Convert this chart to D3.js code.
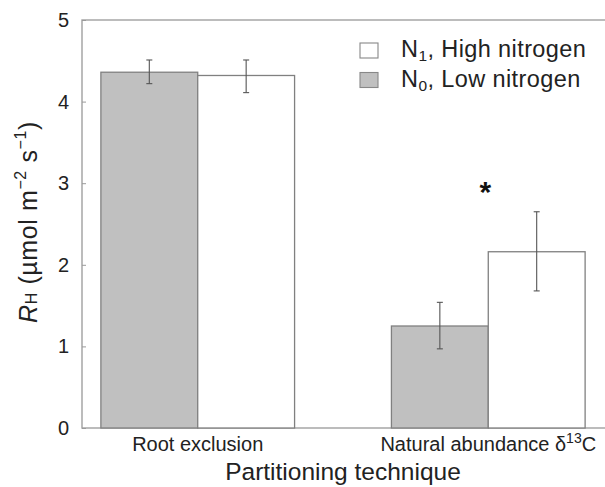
<!DOCTYPE html>
<html><head><meta charset="utf-8">
<script src="https://cdn.jsdelivr.net/npm/d3@7"></script>
<style>body{margin:0;background:#fff}text{font-family:Arial,"Liberation Sans",sans-serif}</style>
</head><body><svg id="c" width="605" height="487"></svg>
<script>
const categories = ["Root exclusion", "Natural abundance"];
const seriesNames = ["N0", "N1"];
const lowN = [4.36, 1.25];
const highN = [4.32, 2.16];
const lowErrLo = [4.22, 0.97], lowErrHi = [4.51, 1.54];
const highErrLo = [4.11, 1.68], highErrHi = [4.51, 2.65];
const yTicks = [0,1,2,3,4,5];

const svg = d3.select("#c");
const L = 82, R = 604, T = 20, B = 428;
const y = d3.scaleLinear().domain([0,5]).range([B,T]);
const x = d3.scaleBand().domain(categories).range([L,R]).paddingInner(1/3).paddingOuter(0.065);
const xs = d3.scaleBand().domain(seriesNames).range([0, x.bandwidth()]);

// frame
svg.append("rect").attr("x",L).attr("y",T).attr("width",R-L+4).attr("height",B-T)
  .attr("fill","none").attr("stroke","#a0a0a0").attr("stroke-width",1.4);

const fills = {N0:"#c0c0c0", N1:"#ffffff"};
const vals = {N0:lowN, N1:highN};
const lo = {N0:lowErrLo, N1:highErrLo}, hi = {N0:lowErrHi, N1:highErrHi};

seriesNames.forEach(s=>{
  categories.forEach((c,i)=>{
    const bx = x(c)+xs(s), bw = xs.bandwidth();
    svg.append("rect").attr("x",bx).attr("y",y(vals[s][i])).attr("width",bw).attr("height",B-y(vals[s][i]))
      .attr("fill",fills[s]).attr("stroke","#808080").attr("stroke-width",1.3);
  });
});
seriesNames.forEach(s=>{
  categories.forEach((c,i)=>{
    const cx = x(c)+xs(s)+xs.bandwidth()/2;
    const g = svg.append("g").attr("stroke","#555").attr("stroke-width",1.1);
    g.append("line").attr("x1",cx).attr("x2",cx).attr("y1",y(lo[s][i])).attr("y2",y(hi[s][i]));
    g.append("line").attr("x1",cx-3).attr("x2",cx+3).attr("y1",y(lo[s][i])).attr("y2",y(lo[s][i]));
    g.append("line").attr("x1",cx-3).attr("x2",cx+3).attr("y1",y(hi[s][i])).attr("y2",y(hi[s][i]));
  });
});

// y axis
const ya = svg.append("g").attr("transform",`translate(${L},0)`)
  .call(d3.axisLeft(y).tickValues(yTicks).tickSize(-4).tickPadding(13).tickFormat(d3.format("d")));
ya.select(".domain").remove();
ya.selectAll(".tick line").attr("stroke","#9a9a9a");
ya.selectAll(".tick text").attr("font-size",20).attr("fill","#222").attr("font-family","Arial,'Liberation Sans',sans-serif");

// x labels
svg.append("text").attr("x",x(categories[0])+x.bandwidth()/2).attr("y",451).attr("text-anchor","middle")
  .attr("font-size",20).attr("fill","#222").text("Root exclusion");
const t2 = svg.append("text").attr("x",x(categories[1])+x.bandwidth()/2).attr("y",451).attr("text-anchor","middle")
  .attr("font-size",20).attr("fill","#222");
t2.append("tspan").text("Natural abundance δ");
t2.append("tspan").attr("font-size",14).attr("dy",-8).text("13");
t2.append("tspan").attr("dy",8).text("C");
svg.append("text").attr("x",343).attr("y",480).attr("text-anchor","middle").attr("font-size",24.5).attr("fill","#222").text("Partitioning technique");

// y label
const yl = svg.append("text").attr("transform","translate(37,222) rotate(-90)").attr("text-anchor","middle")
  .attr("font-size",25).attr("letter-spacing",0.6).attr("fill","#222");
yl.append("tspan").attr("font-style","italic").text("R");
yl.append("tspan").attr("font-size",16).attr("dy",0).text("H");
yl.append("tspan").attr("dy",0).text(" (µmol m");
yl.append("tspan").attr("font-size",16).attr("dy",-11).text("−2");
yl.append("tspan").attr("dy",11).text(" s");
yl.append("tspan").attr("font-size",16).attr("dy",-11).text("−1");
yl.append("tspan").attr("dy",11).text(")");

// asterisk
svg.append("text").attr("x",x(categories[1])+x.bandwidth()/2-3).attr("y",202).attr("text-anchor","middle")
  .attr("font-size",30).attr("font-weight","bold").attr("fill","#111").text("*");

// legend
const legend = [{s:"N1", sub:"1", label:", High nitrogen"},{s:"N0", sub:"0", label:", Low nitrogen"}];
legend.forEach((d,i)=>{
  const ly = 43 + i*29.5;
  svg.append("rect").attr("x",360).attr("y",ly).attr("width",18).attr("height",15)
    .attr("fill",fills[d.s]).attr("stroke","#888").attr("stroke-width",1.1);
  const t = svg.append("text").attr("x",401).attr("y",ly+14).attr("font-size",23.5).attr("letter-spacing",0.4).attr("fill","#222");
  t.append("tspan").text("N");
  t.append("tspan").attr("font-size",15.5).attr("dy",4).text(d.sub);
  t.append("tspan").attr("dy",-4).text(d.label);
});
</script></body></html>
